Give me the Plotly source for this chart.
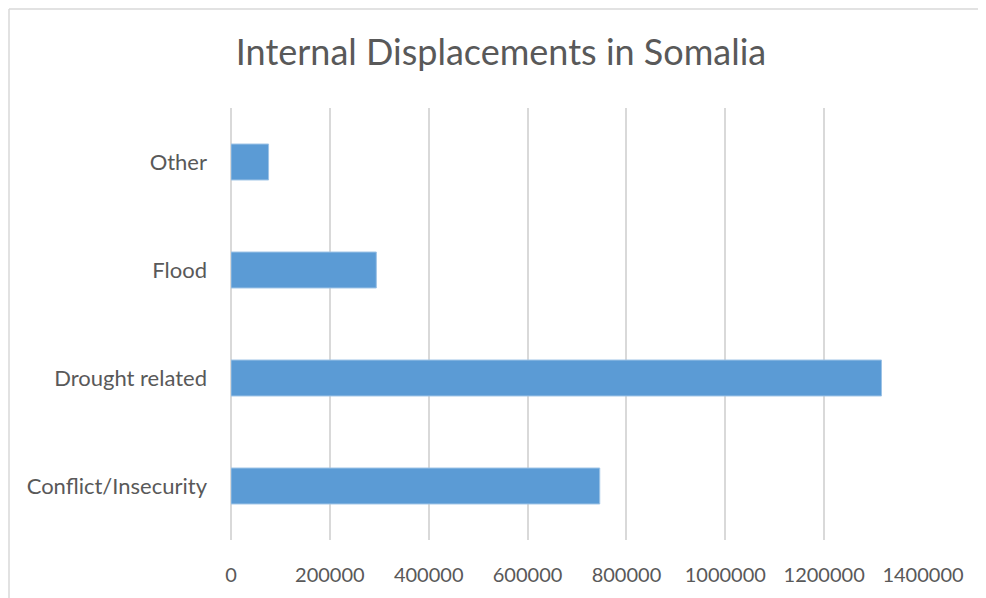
import plotly.graph_objects as go

categories = ["Conflict/Insecurity", "Drought related", "Flood", "Other"]
values = [746000, 1316000, 294000, 76000]
tick_values = [0, 200000, 400000, 600000, 800000, 1000000, 1200000, 1400000]
tick_labels = ["0", "200000", "400000", "600000", "800000", "1000000", "1200000", "1400000"]
title_text = "Internal Displacements in Somalia"

OFF = 8  # page body margin offset
W, H = 986 - OFF, 598 - OFF
L, T = 231 - OFF, 108 - OFF
R = W - (923 - OFF)
B = H - (540 - OFF)

fig = go.Figure(
    go.Bar(
        y=categories,
        x=values,
        orientation="h",
        width=0.333,
        marker=dict(color="#5B9BD5", line=dict(color="#9DC3E6", width=1)),
    )
)

pw = W - L - R
ph = H - T - B
bx = (1 - L) / pw
by = 1 + (T - 1) / ph
border = dict(color="#d9d9d9", width=1.5)
# outer chart border: top and left edges (the rest falls outside the picture)
fig.add_shape(type="line", xref="paper", yref="paper",
              x0=bx, x1=(W + 40 - L) / pw, y0=by, y1=by, line=border, layer="below")
fig.add_shape(type="line", xref="paper", yref="paper",
              x0=bx, x1=bx, y0=by, y1=-(H + 40 - T - ph) / ph, line=border, layer="below")

fig.update_layout(
    width=W, height=H,
    margin=dict(l=L, r=R, t=T, b=B, pad=0),
    paper_bgcolor="white", plot_bgcolor="white",
    font=dict(family="Lato, 'Open Sans', sans-serif", color="#595959", size=21),
    title=dict(text=title_text, x=(501 - OFF) / W, xref="container", y=1 - (52 - OFF) / H,
               yref="container", yanchor="middle", xanchor="center",
               font=dict(size=36, color="#595959")),
    showlegend=False,
    bargap=0.667,
)
fig.update_xaxes(
    range=[0, 1400000], tickvals=tick_values, ticktext=tick_labels,
    tickfont=dict(size=20),
    showgrid=True, gridcolor="#d9d9d9", gridwidth=2,
    zeroline=True, zerolinecolor="#d9d9d9", zerolinewidth=2,
    showline=False, ticks="", ticklabelstandoff=21,
)
fig.update_yaxes(
    categoryorder="array", categoryarray=categories,
    tickfont=dict(size=22),
    showgrid=False, showline=False, ticks="", ticklabelstandoff=23,
)

fig.write_html("out.html")
